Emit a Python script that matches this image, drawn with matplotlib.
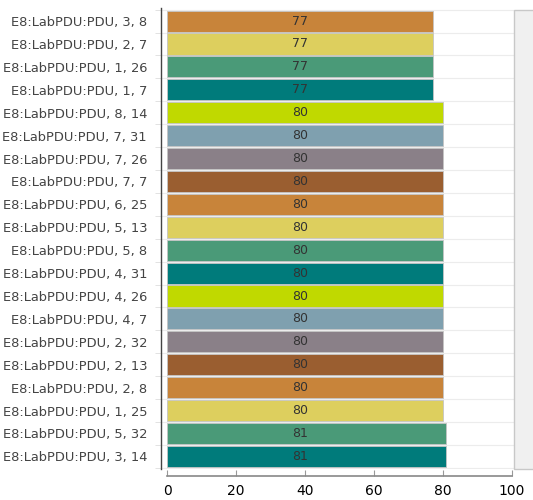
import numpy as np
import matplotlib.pyplot as plt
from matplotlib.patches import Rectangle

# Category labels, top to bottom
labels = ["E8:LabPDU:PDU, 3, 8", "E8:LabPDU:PDU, 2, 7", "E8:LabPDU:PDU, 1, 26",
          "E8:LabPDU:PDU, 1, 7", "E8:LabPDU:PDU, 8, 14", "E8:LabPDU:PDU, 7, 31",
          "E8:LabPDU:PDU, 7, 26", "E8:LabPDU:PDU, 7, 7", "E8:LabPDU:PDU, 6, 25",
          "E8:LabPDU:PDU, 5, 13", "E8:LabPDU:PDU, 5, 8", "E8:LabPDU:PDU, 4, 31",
          "E8:LabPDU:PDU, 4, 26", "E8:LabPDU:PDU, 4, 7", "E8:LabPDU:PDU, 2, 32",
          "E8:LabPDU:PDU, 2, 13", "E8:LabPDU:PDU, 2, 8", "E8:LabPDU:PDU, 1, 25",
          "E8:LabPDU:PDU, 5, 32", "E8:LabPDU:PDU, 3, 14"]
values = [77, 77, 77, 77, 80, 80, 80, 80, 80, 80,
          80, 80, 80, 80, 80, 80, 80, 80, 81, 81]
x_ticks = [0, 20, 40, 60, 80, 100]

# Repeating palette
palette = ["#C8843A", "#DDCF5E", "#4A9A78", "#007B7B",
           "#C0D900", "#7FA0AF", "#8A8088", "#9A5E30"]
colors = [palette[i % len(palette)] for i in range(len(values))]

text_color = "#444444"

fig = plt.figure(figsize=(5.33, 5.0), dpi=100)
ax = fig.add_axes([161 / 533, 0.062, 353 / 533, 0.922])

y = np.arange(len(values))
ax.barh(y, values, height=0.92, color=colors, edgecolor="#c4c4c4", linewidth=0.6, zorder=3)

# value labels, all centred at the same x position
for yi, v in zip(y, values):
    ax.text(38.5, yi, str(v), ha="center", va="center", fontsize=9,
            color="#333333", zorder=4)

ax.set_xlim(-1.74, 100.6)
ax.set_ylim(len(values) - 0.45, -0.57)

ax.set_yticks(y)
ax.set_yticklabels(labels, fontsize=9.4, color=text_color)
ax.tick_params(axis="y", length=0, pad=10)
# small boundary ticks between rows
ax.set_yticks(np.arange(len(values) + 1) - 0.5, minor=True)
ax.tick_params(axis="y", which="minor", length=4, color="#dddddd")
ax.grid(axis="y", which="minor", color="#ececec", linewidth=0.8, zorder=0)

ax.set_xticks(x_ticks)
ax.set_xticklabels([str(t) for t in x_ticks], fontsize=9.5, color=text_color)
ax.tick_params(axis="x", direction="in", length=4, color="#999999", pad=6)

for side in ["top", "right"]:
    ax.spines[side].set_visible(False)
ax.spines["left"].set_color("#444444")
ax.spines["left"].set_linewidth(1.0)
ax.spines["bottom"].set_position(("outward", 5))
ax.spines["bottom"].set_bounds(0, 100)
ax.spines["bottom"].set_color("#888888")
ax.spines["bottom"].set_linewidth(1.2)

# gray panel on the right edge
fig.patches.append(Rectangle((514 / 533, 1 - 469 / 500), 0.05, 459 / 500,
                             transform=fig.transFigure, facecolor="#f0f0f0",
                             edgecolor="#c8c8c8", linewidth=1.0))

fig.savefig("out.png", dpi=100)
